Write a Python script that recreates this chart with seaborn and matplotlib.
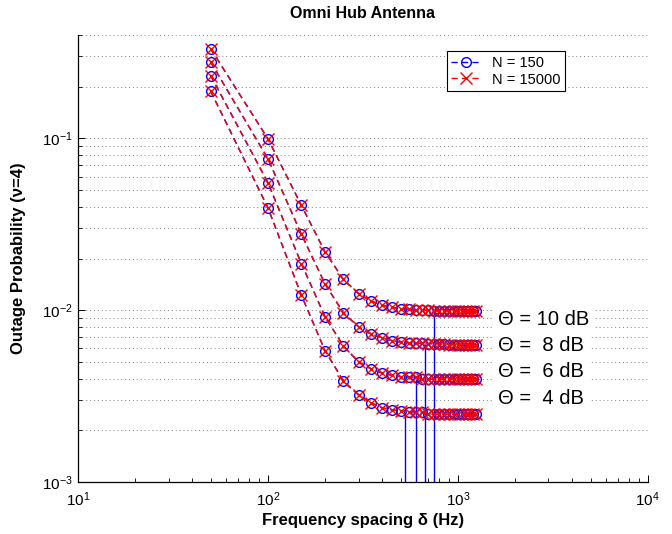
import numpy as np
import pandas as pd
import matplotlib
matplotlib.use("Agg")
import matplotlib.pyplot as plt
from matplotlib.lines import Line2D
from matplotlib.ticker import LogLocator, NullFormatter
import seaborn as sns

# frequency spacing (Hz)
spacing = [50, 100, 150, 200, 250, 300, 350, 400, 450, 500, 550, 600, 650,
           700, 750, 800, 850, 900, 950, 1000, 1050, 1100, 1150, 1200, 1250]

# outage probability per SIR threshold (same for N = 150 and N = 15000)
outage_10db = [0.332, 0.0996, 0.0408, 0.0218, 0.0151, 0.0125, 0.0113, 0.0107,
               0.0104, 0.0102, 0.0101, 0.0100, 0.0100, 0.0100, 0.0099, 0.0099,
               0.0099, 0.0099, 0.0099, 0.0099, 0.0099, 0.0099, 0.0099, 0.0099,
               0.0099]
outage_8db = [0.278, 0.0762, 0.0277, 0.0142, 0.00964, 0.00800, 0.00725, 0.00690,
              0.00665, 0.00652, 0.00646, 0.00643, 0.00641, 0.00640, 0.00638,
              0.00636, 0.00634, 0.00631, 0.00628, 0.00626, 0.00626, 0.00626,
              0.00626, 0.00626, 0.00626]
outage_6db = [0.232, 0.0553, 0.0187, 0.00914, 0.00618, 0.00500, 0.00455, 0.00430,
              0.00418, 0.00410, 0.00408, 0.00406, 0.00397, 0.00397, 0.00397,
              0.00397, 0.00397, 0.00397, 0.00397, 0.00397, 0.00397, 0.00397,
              0.00397, 0.00397, 0.00397]
outage_4db = [0.188, 0.0395, 0.01223, 0.00580, 0.00387, 0.00321, 0.00289, 0.00270,
              0.00263, 0.00259, 0.00257, 0.00256, 0.00255, 0.00248, 0.00248,
              0.00248, 0.00248, 0.00248, 0.00248, 0.00248, 0.00248, 0.00248,
              0.00248, 0.00248, 0.00248]

curves = {"10 dB": outage_10db, "8 dB": outage_8db,
          "6 dB": outage_6db, "4 dB": outage_4db}
theta_labels = ["\u0398 = 10 dB", "\u0398 =  8 dB", "\u0398 =  6 dB", "\u0398 =  4 dB"]
theta_label_y = [0.00883, 0.00626, 0.00438, 0.00307]

# convergence markers (vertical stems)
stem_x = [525, 600, 675, 750]
stem_top = [0.0025, 0.0040, 0.0064, 0.0099]

sns.set_theme(style="white")
plt.rcParams["font.family"] = ["Liberation Sans", "DejaVu Sans"]
plt.rcParams["mathtext.fontset"] = "custom"
plt.rcParams["mathtext.rm"] = "Liberation Sans"
for key in ["text.color", "axes.labelcolor", "xtick.color", "ytick.color"]:
    plt.rcParams[key] = "black"

fig = plt.figure(figsize=(6.72, 5.34), dpi=100)
ax = fig.add_axes([0.116, 0.0974, 0.848, 0.837])

dash = (4.5, 3.0)
for name, vals in curves.items():
    df = pd.DataFrame({"spacing": spacing, "outage": vals})
    sns.lineplot(data=df, x="spacing", y="outage", ax=ax, color="blue",
                 lw=1.0, dashes=False, linestyle=(0, dash), marker="o",
                 markersize=7, markerfacecolor="none", markeredgecolor="blue",
                 markeredgewidth=1.0, legend=False, zorder=3)
for name, vals in curves.items():
    df = pd.DataFrame({"spacing": spacing, "outage": vals})
    sns.lineplot(data=df, x="spacing", y="outage", ax=ax, color="red",
                 lw=1.0, dashes=False, linestyle=(0, dash), marker="x",
                 markersize=8, markeredgecolor="red", markeredgewidth=1.0,
                 legend=False, zorder=4)

ax.vlines(stem_x, 1e-3, stem_top, colors="blue", lw=1.0, zorder=2)

ax.set_xscale("log")
ax.set_yscale("log")
ax.set_xlim(10, 1e4)
ax.set_ylim(1e-3, 0.4)

ax.yaxis.set_major_locator(LogLocator(base=10, numticks=10))
ax.yaxis.set_minor_locator(LogLocator(base=10, subs=np.arange(2, 10), numticks=10))
ax.yaxis.set_minor_formatter(NullFormatter())
ax.xaxis.set_minor_locator(LogLocator(base=10, subs=np.arange(2, 10), numticks=10))
ax.xaxis.set_minor_formatter(NullFormatter())

ax.grid(False)
ax.yaxis.grid(True, which="both", linestyle=(0, (1, 3)), color="0.5", lw=0.7)
ax.xaxis.grid(False, which="both")
ax.set_axisbelow(True)

for side in ["top", "right"]:
    ax.spines[side].set_visible(False)
for side in ["left", "bottom"]:
    ax.spines[side].set_color("black")
    ax.spines[side].set_linewidth(0.9)

ax.tick_params(which="major", direction="in", length=5, width=0.7,
               colors="black", labelsize=11, bottom=True, left=True)
ax.tick_params(which="minor", direction="in", length=3, width=0.6,
               colors="black", bottom=True, left=True)
ax.tick_params(axis="x", which="major", pad=6)

ax.set_title("Omni Hub Antenna", fontsize=11.5, fontweight="bold", pad=12)
ax.set_xlabel("Frequency spacing \u03b4 (Hz)", fontsize=12, fontweight="bold",
              labelpad=3)
ax.set_ylabel("Outage Probability (\u03bd=4)", fontsize=12, fontweight="bold",
              labelpad=12)

for txt, yv in zip(theta_labels, theta_label_y):
    ax.text(1630, yv, txt, fontsize=14.5, va="center", ha="left", zorder=5,
            color="black",
            bbox=dict(facecolor="white", edgecolor="none", pad=3.5))

handles = [
    Line2D([], [], color="blue", lw=1.0, linestyle=(0, dash), marker="o",
           markersize=7, markerfacecolor="none", markeredgecolor="blue"),
    Line2D([], [], color="red", lw=1.0, linestyle=(0, dash), marker="x",
           markersize=8, markeredgecolor="red"),
]
leg = ax.legend(handles, ["N = 150", "N = 15000"], loc="upper left",
                bbox_to_anchor=(0.635, 0.98), fontsize=10.5, frameon=True,
                fancybox=False, framealpha=1, edgecolor="black",
                handlelength=2.0, borderpad=0.3, labelspacing=0.2,
                handletextpad=0.8)
leg.get_frame().set_linewidth(0.8)
for t in leg.get_texts():
    t.set_color("black")

fig.savefig("out.png", dpi=100)
